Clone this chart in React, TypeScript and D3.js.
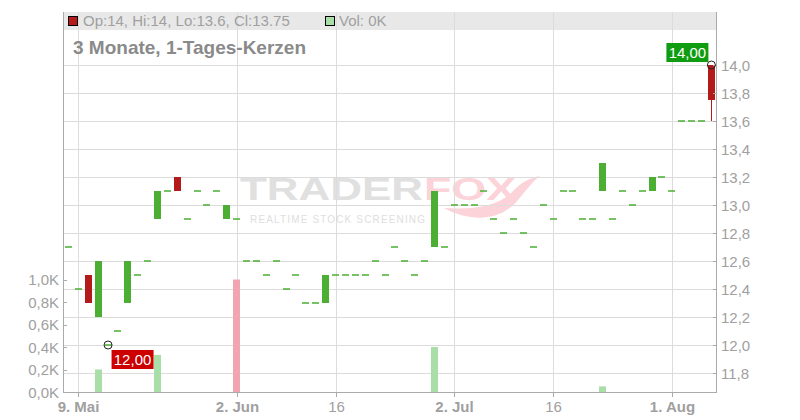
import React from 'react';
import * as d3 from 'd3';

// trading days (categories)
const dates: Date[] = d3.timeDay
  .range(new Date(2025, 4, 8), new Date(2025, 7, 8))
  .filter((d) => d.getDay() !== 0 && d.getDay() !== 6);

const opens = [12.7,12.4,12.5,12.2,12.0,12.1,12.3,12.5,12.6,12.9, 13.1,13.2,12.9,13.1,13.0,13.1,12.9,12.9,12.6,12.6, 12.5,12.6,12.4,12.5,12.3,12.3,12.3,12.5,12.5,12.5, 12.5,12.6,12.5,12.7,12.6,12.5,12.6,12.7,12.7,13.0, 13.0,13.0,13.1,12.9,12.8,12.9,12.8,12.7,13.0,12.9, 13.1,13.1,12.9,12.9,13.1,12.9,13.1,13.0,13.1,13.1, 13.2,13.1,13.6,13.6,13.6,14.0];
const highs = [12.7,12.4,12.5,12.6,12.0,12.1,12.6,12.5,12.6,13.1, 13.1,13.2,12.9,13.1,13.0,13.1,13.0,12.9,12.6,12.6, 12.5,12.6,12.4,12.5,12.3,12.3,12.5,12.5,12.5,12.5, 12.5,12.6,12.5,12.7,12.6,12.5,12.6,13.1,12.7,13.0, 13.0,13.0,13.1,12.9,12.8,12.9,12.8,12.7,13.0,12.9, 13.1,13.1,12.9,12.9,13.3,12.9,13.1,13.0,13.1,13.2, 13.2,13.1,13.6,13.6,13.6,14.0];
const lows = [12.7,12.4,12.3,12.2,12.0,12.1,12.3,12.5,12.6,12.9, 13.1,13.1,12.9,13.1,13.0,13.1,12.9,12.9,12.6,12.6, 12.5,12.6,12.4,12.5,12.3,12.3,12.3,12.5,12.5,12.5, 12.5,12.6,12.5,12.7,12.6,12.5,12.6,12.7,12.7,13.0, 13.0,13.0,13.1,12.9,12.8,12.9,12.8,12.7,13.0,12.9, 13.1,13.1,12.9,12.9,13.1,12.9,13.1,13.0,13.1,13.1, 13.2,13.1,13.6,13.6,13.6,13.6];
const closes = [12.7,12.4,12.3,12.6,12.0,12.1,12.6,12.5,12.6,13.1, 13.1,13.1,12.9,13.1,13.0,13.1,13.0,12.9,12.6,12.6, 12.5,12.6,12.4,12.5,12.3,12.3,12.5,12.5,12.5,12.5, 12.5,12.6,12.5,12.7,12.6,12.5,12.6,13.1,12.7,13.0, 13.0,13.0,13.1,12.9,12.8,12.9,12.8,12.7,13.0,12.9, 13.1,13.1,12.9,12.9,13.3,12.9,13.1,13.0,13.1,13.2, 13.2,13.1,13.6,13.6,13.6,13.75];
// volume in thousands
const volumes = [0,0,0,0.2,0,0,0,0,0,0.33, 0,0,0,0,0,0,0,1.0,0,0, 0,0,0,0,0,0,0,0,0,0, 0,0,0,0,0,0,0,0.4,0,0, 0,0,0,0,0,0,0,0,0,0, 0,0,0,0,0.05,0,0,0,0,0, 0,0,0,0,0,0];

const xTickDates = ['2025-05-09', '2025-06-02', '2025-06-16', '2025-07-02', '2025-07-16', '2025-08-01'];
const xTickLabels = ['9. Mai', '2. Jun', '16', '2. Jul', '16', '1. Aug'];
const xTickBold = [true, true, false, true, false, true];
const priceTicks = [11.8, 12.0, 12.2, 12.4, 12.6, 12.8, 13.0, 13.2, 13.4, 13.6, 13.8, 14.0];
const volumeTicks = [0, 0.2, 0.4, 0.6, 0.8, 1.0];

const headerText = 'Op:14, Hi:14, Lo:13.6, Cl:13.75';
const volText = 'Vol: 0K';
const title = '3 Monate, 1-Tages-Kerzen';

const W = 800;
const H = 420;
const L = 63;
const R = 716;
const T = 12;
const B = 392;

const GREEN = '#4caf34';
const RED = '#b51a1a';
const VOL_UP = '#a9dea9';
const VOL_DOWN = '#f0a5b0';
const FONT = 'Arial, "Liberation Sans", Helvetica, sans-serif';

export default function App() {
  const fmtDay = d3.timeFormat('%Y-%m-%d');
  const dayKeys = dates.map(fmtDay);
  const x = d3.scaleLinear().domain([0, dates.length - 1]).range([68.5, 711.4]);
  const y = d3.scaleLinear().domain([11.8, 14.0]).range([373, 65]);
  const yv = d3.scaleLinear().domain([0, 1.0]).range([B, 279.5]);
  const comma = (v: number, n: number) => v.toFixed(n).replace('.', ',');

  const bw = 7;
  const hiIdx = d3.maxIndex(highs);
  const loIdx = d3.minIndex(lows);

  return (
    <svg width={W} height={H} style={{ position: 'absolute', left: 0, top: 0, background: '#fff' }} fontFamily={FONT}>
      {/* watermark */}
      <g>
        <text x={240} y={200} fontSize={32} fontWeight="bold" fill="#e0e0e0" textLength={183} lengthAdjust="spacingAndGlyphs">TRADER</text>
        <text x={424} y={200} fontSize={32} fontWeight="bold" fill="#fbd3d8" textLength={92} lengthAdjust="spacingAndGlyphs">FOX</text>
        <path d="M 444 208 C 470 222, 500 222, 518 200 C 528 188, 534 180, 540 176 C 530 178, 522 182, 514 190 C 500 206, 474 210, 444 208 Z" fill="#fbd3d8" />
        <text x={250} y={223} fontSize={10} fill="#dedede" textLength={175} lengthAdjust="spacing">REALTIME STOCK SCREENING</text>
      </g>

      {/* header band */}
      <rect x={L} y={T} width={R - L} height={18} fill="#e8e8e8" />

      {/* grid */}
      {priceTicks.map((p) => (
        <line key={'hg' + p} x1={L} x2={R} y1={Math.round(y(p)) + 0.5} y2={Math.round(y(p)) + 0.5} stroke="#dcdcdc" />
      ))}
      {xTickDates.map((d) => {
        const xi = Math.round(x(dayKeys.indexOf(d))) + 0.5;
        return <line key={'vg' + d} x1={xi} x2={xi} y1={T} y2={B} stroke="#dcdcdc" />;
      })}

      {/* volume */}
      {volumes.map((v, i) => {
        if (v <= 0) return null;
        const up = i === 0 || closes[i] >= closes[i - 1];
        const top = yv(v);
        return (
          <rect key={'v' + i} x={Math.round(x(i) - bw / 2)} y={top} width={bw} height={B - top} fill={up ? VOL_UP : VOL_DOWN} />
        );
      })}

      {/* candles */}
      {dates.map((_, i) => {
        const o = opens[i];
        const c = closes[i];
        const cx = Math.round(x(i) - bw / 2);
        const flat = o === c;
        const col = flat ? GREEN : c > o ? GREEN : RED;
        const yTop = y(Math.max(o, c));
        const yBot = y(Math.min(o, c));
        const wx = cx + 3.5;
        return (
          <g key={'c' + i}>
            {(highs[i] > Math.max(o, c) || lows[i] < Math.min(o, c)) && (
              <line x1={wx} x2={wx} y1={y(highs[i])} y2={y(lows[i])} stroke={col} strokeWidth={1} />
            )}
            {flat ? (
              <rect x={cx} y={yTop - 0.75} width={bw} height={1.5} fill={col} />
            ) : (
              <rect x={cx} y={yTop} width={bw} height={yBot - yTop} fill={col} />
            )}
          </g>
        );
      })}

      {/* axes */}
      <line x1={L + 0.5} x2={L + 0.5} y1={T} y2={B} stroke="#aaa" />
      <line x1={R + 0.5} x2={R + 0.5} y1={T} y2={B} stroke="#aaa" />
      <line x1={L} x2={R + 1} y1={B + 0.5} y2={B + 0.5} stroke="#aaa" />

      {priceTicks.map((p) => (
        <g key={'pt' + p}>
          <line x1={R - 3} x2={R} y1={Math.round(y(p)) + 0.5} y2={Math.round(y(p)) + 0.5} stroke="#aaa" />
          <text x={721} y={y(p) + 5.5} fontSize={15} fill="#a0a0a0">{comma(p, 1)}</text>
        </g>
      ))}
      {volumeTicks.map((v) => (
        <g key={'vt' + v}>
          <line x1={L} x2={L + 4} y1={Math.round(yv(v)) + 0.5} y2={Math.round(yv(v)) + 0.5} stroke="#aaa" />
          <text x={59} y={yv(v) + 5.5} fontSize={15} fill="#a0a0a0" textAnchor="end">{comma(v, 1)}K</text>
        </g>
      ))}
      {xTickDates.map((d, k) => {
        const xi = Math.round(x(dayKeys.indexOf(d))) + 0.5;
        return (
          <g key={'xt' + d}>
            <line x1={xi} x2={xi} y1={B} y2={B + 5} stroke="#aaa" />
            <text x={xi} y={412} fontSize={15} fill="#a0a0a0" textAnchor="middle" fontWeight={xTickBold[k] ? 'bold' : 'normal'}>
              {xTickLabels[k]}
            </text>
          </g>
        );
      })}

      {/* header legend */}
      <rect x={68.5} y={16.5} width={9} height={9} fill={RED} stroke="#000" />
      <text x={83} y={26} fontSize={15} fill="#a0a0a0">{headerText}</text>
      <rect x={325.5} y={16.5} width={9} height={9} fill={VOL_UP} stroke="#000" />
      <text x={339} y={26} fontSize={15} fill="#a0a0a0">{volText}</text>
      <text x={73} y={54} fontSize={19} fontWeight="bold" fill="#8a8a8a">{title}</text>

      {/* high marker */}
      <circle cx={x(hiIdx)} cy={y(highs[hiIdx])} r={4} fill="none" stroke="#222" />
      <rect x={x(hiIdx) - 45} y={y(highs[hiIdx]) - 22} width={42} height={19} fill="#109c10" />
      <text x={x(hiIdx) - 24} y={y(highs[hiIdx]) - 7.5} fontSize={15} fill="#fff" textAnchor="middle">{comma(highs[hiIdx], 2)}</text>

      {/* low marker */}
      <circle cx={x(loIdx)} cy={y(lows[loIdx])} r={4} fill="none" stroke="#222" />
      <rect x={x(loIdx) + 3.5} y={y(lows[loIdx]) + 5} width={42} height={19} fill="#cc0000" />
      <text x={x(loIdx) + 24.5} y={y(lows[loIdx]) + 20} fontSize={15} fill="#fff" textAnchor="middle">{comma(lows[loIdx], 2)}</text>
    </svg>
  );
}
